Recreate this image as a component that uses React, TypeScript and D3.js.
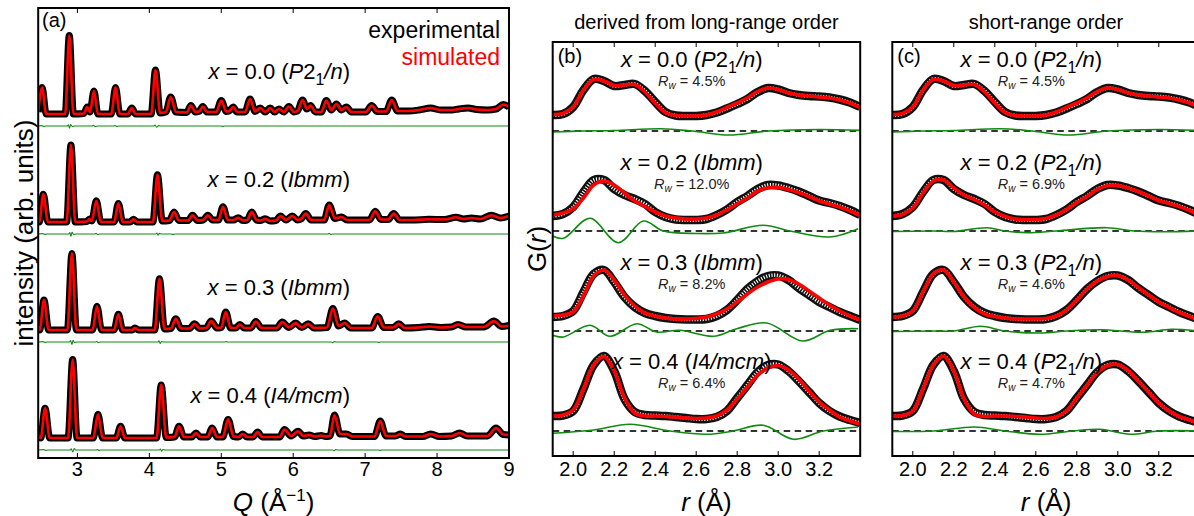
import React from 'react';
import * as d3 from 'd3';

const FONT = "'Liberation Sans', Arial, Helvetica, sans-serif";

// ---------------- shared labels ----------------
const compositions = ['0.0', '0.2', '0.3', '0.4'];
const sgAverage = ['P2_1/n', 'Ibmm', 'Ibmm', 'I4/mcm'];
const sgLocal = ['P2_1/n', 'P2_1/n', 'P2_1/n', 'P2_1/n'];
const rwLong = ['4.5', '12.0', '8.2', '6.4'];
const rwShort = ['4.5', '6.9', '4.6', '4.7'];

// ---------------- panel (a): diffraction ----------------
const qTicks = [3, 4, 5, 6, 7, 8, 9];
const offsetsA = [3.24, 2.16, 1.08, 0];

const profile00: [number, number][] = [
  [2.455, 0.02], [2.51, 0.264], [2.565, 0.0],
  [2.83, 0.0], [2.887, 0.785], [2.945, 0.0],
  [3.09, 0.005], [3.135, 0.07], [3.175, 0.02], [3.23, 0.23], [3.285, 0.0],
  [3.47, 0.0], [3.53, 0.264], [3.59, 0.0],
  [3.70, 0.0], [3.756, 0.06], [3.81, 0.0],
  [4.025, 0.0], [4.085, 0.44], [4.15, 0.01],
  [4.23, 0.02], [4.297, 0.17], [4.37, 0.02],
  [4.52, 0.015], [4.577, 0.085], [4.64, 0.02],
  [4.69, 0.025], [4.744, 0.075], [4.80, 0.02],
  [4.93, 0.02], [5.0, 0.135], [5.07, 0.025],
  [5.11, 0.03], [5.165, 0.07], [5.22, 0.02],
  [5.33, 0.02], [5.40, 0.15], [5.47, 0.025],
  [5.54, 0.06], [5.61, 0.02], [5.68, 0.06], [5.74, 0.02], [5.80, 0.05], [5.87, 0.02], [5.94, 0.075], [6.01, 0.02],
  [6.06, 0.03], [6.13, 0.14], [6.19, 0.05], [6.24, 0.085], [6.31, 0.02],
  [6.39, 0.02], [6.46, 0.135], [6.53, 0.04], [6.60, 0.10], [6.67, 0.04], [6.74, 0.07], [6.81, 0.02],
  [7.01, 0.02], [7.09, 0.085], [7.17, 0.025],
  [7.29, 0.025], [7.37, 0.14], [7.45, 0.03],
  [7.6, 0.03], [7.75, 0.04], [7.91, 0.06], [8.05, 0.04],
  [8.2, 0.04], [8.3, 0.05], [8.43, 0.06], [8.55, 0.045],
  [8.7, 0.04], [8.82, 0.05], [8.92, 0.095], [9.0, 0.07],
];

const profile02: [number, number][] = [
  [2.455, 0.02], [2.47, 0.0], [2.526, 0.277], [2.59, 0.0],
  [2.85, 0.0], [2.91, 0.771], [2.97, 0.0],
  [3.13, 0.005], [3.17, 0.03], [3.2, 0.01], [3.263, 0.213], [3.325, 0.0],
  [3.51, 0.0], [3.569, 0.186], [3.63, 0.0],
  [3.73, 0.0], [3.78, 0.027], [3.83, 0.0],
  [4.05, 0.0], [4.113, 0.473], [4.18, 0.01],
  [4.28, 0.015], [4.344, 0.10], [4.41, 0.015],
  [4.54, 0.015], [4.60, 0.068], [4.67, 0.015],
  [4.75, 0.02], [4.813, 0.068], [4.88, 0.02],
  [4.96, 0.02], [5.024, 0.153], [5.09, 0.02],
  [5.17, 0.02], [5.235, 0.043], [5.30, 0.015],
  [5.36, 0.02], [5.424, 0.10], [5.49, 0.02],
  [5.55, 0.015], [5.612, 0.033], [5.68, 0.01],
  [5.76, 0.015], [5.823, 0.06], [5.90, 0.02], [5.987, 0.06], [6.06, 0.02],
  [6.11, 0.03], [6.175, 0.084], [6.25, 0.02],
  [6.43, 0.02], [6.5, 0.17], [6.58, 0.035], [6.67, 0.05], [6.75, 0.02],
  [7.06, 0.02], [7.14, 0.108], [7.22, 0.025],
  [7.32, 0.025], [7.397, 0.084], [7.48, 0.02],
  [7.65, 0.02], [7.89, 0.027], [8.1, 0.025],
  [8.265, 0.047], [8.37, 0.03], [8.477, 0.04], [8.6, 0.03],
  [8.757, 0.068], [8.88, 0.04], [9.0, 0.06],
];

const profile03: [number, number][] = [
  [2.455, 0.02], [2.475, 0.0], [2.535, 0.30], [2.60, 0.0],
  [2.86, 0.0], [2.924, 0.766], [2.985, 0.0],
  [3.21, 0.0], [3.272, 0.238], [3.335, 0.0],
  [3.51, 0.0], [3.569, 0.157], [3.63, 0.0],
  [3.76, 0.0], [3.80, 0.02], [3.85, 0.0],
  [4.075, 0.0], [4.14, 0.512], [4.21, 0.01],
  [4.30, 0.015], [4.367, 0.113], [4.44, 0.015],
  [4.56, 0.015], [4.626, 0.062], [4.70, 0.015],
  [4.79, 0.02], [4.86, 0.089], [4.94, 0.02],
  [5.00, 0.025], [5.062, 0.18], [5.13, 0.02],
  [5.20, 0.02], [5.258, 0.055], [5.32, 0.02],
  [5.41, 0.02], [5.48, 0.085], [5.56, 0.02],
  [5.77, 0.02], [5.847, 0.079], [5.94, 0.025], [6.034, 0.069], [6.12, 0.025], [6.208, 0.062], [6.29, 0.02],
  [6.47, 0.025], [6.551, 0.214], [6.63, 0.04], [6.716, 0.07], [6.8, 0.02],
  [7.09, 0.02], [7.175, 0.136], [7.26, 0.025],
  [7.39, 0.025], [7.467, 0.062], [7.55, 0.02],
  [7.75, 0.025], [7.89, 0.035], [8.05, 0.025],
  [8.2, 0.03], [8.29, 0.055], [8.4, 0.03],
  [8.65, 0.03], [8.79, 0.089], [8.9, 0.035], [9.0, 0.045],
];

const profile04: [number, number][] = [
  [2.455, 0.02], [2.49, 0.0], [2.55, 0.298], [2.615, 0.0],
  [2.87, 0.0], [2.934, 0.785], [2.995, 0.0],
  [3.22, 0.0], [3.286, 0.237], [3.35, 0.0],
  [3.54, 0.0], [3.60, 0.118], [3.66, 0.0],
  [4.10, 0.0], [4.165, 0.531], [4.235, 0.005],
  [4.35, 0.01], [4.413, 0.118], [4.48, 0.01],
  [4.59, 0.01], [4.647, 0.05], [4.71, 0.01],
  [4.81, 0.01], [4.874, 0.10], [4.94, 0.01],
  [5.02, 0.01], [5.095, 0.186], [5.17, 0.015],
  [5.24, 0.01], [5.297, 0.04], [5.36, 0.01],
  [5.44, 0.01], [5.504, 0.06], [5.57, 0.01],
  [5.81, 0.01], [5.879, 0.085], [5.97, 0.02], [6.068, 0.068], [6.14, 0.02], [6.22, 0.03], [6.30, 0.015], [6.388, 0.025], [6.45, 0.015],
  [6.51, 0.02], [6.574, 0.23], [6.65, 0.04], [6.74, 0.04], [6.82, 0.015],
  [7.13, 0.015], [7.21, 0.169], [7.29, 0.02],
  [7.42, 0.02], [7.49, 0.04], [7.56, 0.015],
  [7.8, 0.015], [7.913, 0.04], [8.03, 0.015],
  [8.2, 0.02], [8.313, 0.05], [8.42, 0.02],
  [8.7, 0.02], [8.82, 0.10], [8.92, 0.035], [9.0, 0.03],
];

const diffA00: [number, number][] = [
  [2.455, 0], [2.50, 0.004], [2.53, -0.004], [2.56, 0], [2.86, 0], [2.875, 0.012], [2.89, -0.022], [2.905, 0.015], [2.93, -0.005], [2.96, 0],
  [3.2, 0], [3.22, 0.006], [3.25, -0.005], [3.28, 0], [3.5, 0], [3.52, 0.005], [3.55, -0.004], [3.58, 0],
  [4.06, 0], [4.08, 0.01], [4.1, -0.012], [4.13, 0.004], [4.16, 0], [5.0, 0], [5.02, -0.004], [5.05, 0], [9.0, 0],
];
const diffA02: [number, number][] = [
  [2.455, 0], [2.52, 0.004], [2.55, -0.004], [2.58, 0], [2.88, 0], [2.895, 0.014], [2.91, -0.024], [2.925, 0.016], [2.95, -0.005], [2.98, 0],
  [3.24, 0], [3.26, 0.006], [3.28, -0.005], [3.31, 0], [4.09, 0], [4.105, 0.01], [4.12, -0.012], [4.14, 0.006], [4.17, 0],
  [4.3, 0], [4.33, -0.004], [4.36, 0], [6.48, 0], [6.5, 0.006], [6.52, -0.004], [6.55, 0], [9.0, 0],
];
const diffA03: [number, number][] = [
  [2.455, 0], [2.52, 0.004], [2.55, -0.004], [2.58, 0], [2.89, 0], [2.905, 0.014], [2.925, -0.024], [2.94, 0.016], [2.96, -0.005], [2.99, 0],
  [3.25, 0], [3.27, 0.005], [3.29, -0.005], [3.32, 0], [4.12, 0], [4.135, 0.012], [4.15, -0.014], [4.17, 0.005], [4.2, 0],
  [5.05, 0], [5.07, 0.004], [5.09, 0], [6.53, 0], [6.55, -0.008], [6.57, 0.004], [6.6, 0], [7.17, 0], [7.19, -0.004], [7.21, 0], [9.0, 0],
];
const diffA04: [number, number][] = [
  [2.455, 0], [2.53, 0.004], [2.56, -0.004], [2.59, 0], [2.9, 0], [2.915, 0.012], [2.935, -0.02], [2.955, 0.014], [2.98, 0],
  [3.26, 0], [3.28, 0.004], [3.3, -0.004], [3.32, 0], [4.14, 0], [4.155, 0.01], [4.17, -0.012], [4.19, 0.004], [4.22, 0],
  [6.55, 0], [6.57, -0.008], [6.59, 0.004], [6.62, 0], [7.19, 0], [7.21, -0.004], [7.23, 0], [9.0, 0],
];
const profilesA = [profile00, profile02, profile03, profile04];
const diffsA = [diffA00, diffA02, diffA03, diffA04];

// ---------------- panels (b) and (c): PDF ----------------
const rGrid = [1.90, 1.95, 2.00, 2.05, 2.10, 2.15, 2.20, 2.25, 2.30, 2.35, 2.40, 2.45, 2.50, 2.55, 2.60, 2.65,
  2.70, 2.75, 2.80, 2.85, 2.90, 2.95, 3.00, 3.05, 3.10, 3.15, 3.20, 3.25, 3.30, 3.35, 3.40];
const rTicks = [2.0, 2.2, 2.4, 2.6, 2.8, 3.0, 3.2];
const offsetsG = [3, 2, 1, 0];

const expG00 = [0.16, 0.17, 0.24, 0.41, 0.52, 0.50, 0.45, 0.46, 0.47, 0.40, 0.29, 0.19, 0.155, 0.15, 0.15, 0.16, 0.185, 0.225, 0.27, 0.32, 0.39, 0.43, 0.415, 0.38, 0.36, 0.35, 0.345, 0.335, 0.315, 0.285, 0.24];
const expG02 = [0.15, 0.17, 0.24, 0.39, 0.51, 0.51, 0.42, 0.36, 0.32, 0.27, 0.19, 0.14, 0.115, 0.11, 0.11, 0.12, 0.16, 0.215, 0.29, 0.35, 0.42, 0.46, 0.455, 0.43, 0.395, 0.35, 0.305, 0.28, 0.25, 0.21, 0.16];
const expG03 = [0.14, 0.15, 0.20, 0.39, 0.57, 0.61, 0.49, 0.34, 0.24, 0.18, 0.15, 0.13, 0.12, 0.115, 0.115, 0.12, 0.15, 0.21, 0.31, 0.42, 0.50, 0.55, 0.555, 0.51, 0.43, 0.36, 0.29, 0.24, 0.19, 0.15, 0.11];
const expG04 = [0.15, 0.155, 0.20, 0.42, 0.66, 0.75, 0.60, 0.32, 0.19, 0.16, 0.155, 0.15, 0.14, 0.13, 0.12, 0.12, 0.14, 0.20, 0.33, 0.46, 0.59, 0.66, 0.665, 0.60, 0.50, 0.39, 0.28, 0.20, 0.145, 0.11, 0.08];

// simulated, average (long-range) structure models
const simLong00 = [0.165, 0.175, 0.24, 0.41, 0.515, 0.50, 0.455, 0.46, 0.465, 0.39, 0.28, 0.185, 0.155, 0.15, 0.15, 0.16, 0.19, 0.235, 0.28, 0.33, 0.395, 0.43, 0.415, 0.38, 0.36, 0.35, 0.34, 0.33, 0.31, 0.28, 0.235];
const simLong02 = [0.16, 0.18, 0.22, 0.33, 0.46, 0.50, 0.46, 0.38, 0.30, 0.245, 0.19, 0.15, 0.13, 0.12, 0.12, 0.13, 0.16, 0.21, 0.27, 0.33, 0.40, 0.43, 0.435, 0.415, 0.385, 0.345, 0.30, 0.27, 0.24, 0.20, 0.155];
const simLong03 = [0.15, 0.16, 0.19, 0.35, 0.55, 0.61, 0.51, 0.36, 0.25, 0.18, 0.15, 0.13, 0.12, 0.12, 0.125, 0.14, 0.17, 0.22, 0.29, 0.37, 0.44, 0.49, 0.52, 0.515, 0.47, 0.40, 0.33, 0.26, 0.20, 0.15, 0.11];
const simLong04 = [0.15, 0.16, 0.21, 0.42, 0.66, 0.745, 0.60, 0.33, 0.18, 0.15, 0.15, 0.145, 0.14, 0.13, 0.125, 0.13, 0.15, 0.21, 0.32, 0.44, 0.56, 0.63, 0.655, 0.61, 0.52, 0.40, 0.29, 0.21, 0.14, 0.10, 0.07];
// simulated, local (short-range) P2_1/n models
const simShort00 = simLong00;
const simShort02 = [0.15, 0.165, 0.23, 0.38, 0.50, 0.51, 0.43, 0.36, 0.315, 0.26, 0.19, 0.145, 0.12, 0.115, 0.115, 0.125, 0.16, 0.215, 0.285, 0.345, 0.415, 0.455, 0.455, 0.43, 0.395, 0.35, 0.305, 0.275, 0.245, 0.205, 0.155];
const simShort03 = [0.14, 0.15, 0.20, 0.39, 0.57, 0.61, 0.49, 0.34, 0.235, 0.17, 0.145, 0.13, 0.12, 0.12, 0.12, 0.125, 0.15, 0.21, 0.31, 0.42, 0.50, 0.545, 0.555, 0.51, 0.435, 0.36, 0.29, 0.235, 0.185, 0.145, 0.11];
const simShort04 = [0.15, 0.155, 0.20, 0.42, 0.66, 0.75, 0.60, 0.32, 0.17, 0.145, 0.15, 0.15, 0.145, 0.14, 0.13, 0.125, 0.14, 0.20, 0.33, 0.46, 0.585, 0.655, 0.665, 0.605, 0.50, 0.39, 0.28, 0.20, 0.145, 0.11, 0.08];

// difference curves (r, G)
const diffLong00: [number, number][] = [[1.9, -0.01], [2.05, 0.0], [2.2, 0.005], [2.43, 0.023], [2.58, 0.0], [2.76, -0.04], [2.95, 0.0], [3.2, 0.015], [3.4, 0.006]];
const diffLong02: [number, number][] = [[1.9, -0.05], [1.952, -0.073], [2.082, 0.127], [2.22, -0.117], [2.342, 0.10], [2.44, 0.0], [2.60, -0.025], [2.73, -0.02], [2.927, 0.057], [3.057, 0.0], [3.253, -0.06], [3.39, 0.023]];
const diffLong03: [number, number][] = [[1.9, -0.043], [1.952, -0.06], [2.082, 0.057], [2.18, -0.053], [2.31, 0.073], [2.407, -0.01], [2.52, 0.007], [2.684, -0.053], [2.798, 0.023], [2.944, 0.08], [3.12, -0.10], [3.253, 0.007], [3.39, 0.023]];
const diffLong04: [number, number][] = [[1.9, -0.023], [2.1, 0.01], [2.277, 0.067], [2.472, 0.0], [2.65, -0.033], [2.78, 0.0], [2.927, 0.057], [3.074, -0.083], [3.22, 0.0], [3.39, 0.04]];
const diffShort00 = diffLong00;
const diffShort02: [number, number][] = [[1.9, -0.005], [2.1, 0.0], [2.2, -0.005], [2.362, 0.033], [2.45, 0.0], [2.557, -0.017], [2.7, 0.0], [2.946, 0.033], [3.08, 0.0], [3.233, -0.007], [3.4, 0.0]];
const diffShort03: [number, number][] = [[1.9, -0.005], [2.1, 0.0], [2.2, 0.0], [2.33, 0.047], [2.45, 0.0], [2.62, -0.02], [2.75, 0.0], [2.914, 0.013], [3.125, -0.013], [3.26, 0.017], [3.4, 0.0]];
const diffShort04: [number, number][] = [[1.9, -0.005], [2.1, 0.0], [2.3, 0.04], [2.45, 0.0], [2.62, -0.033], [2.78, 0.0], [2.914, 0.017], [3.06, -0.033], [3.2, 0.0], [3.4, 0.0]];

const expG = [expG00, expG02, expG03, expG04];
const simLong = [simLong00, simLong02, simLong03, simLong04];
const simShort = [simShort00, simShort02, simShort03, simShort04];
const diffLong = [diffLong00, diffLong02, diffLong03, diffLong04];
const diffShort = [diffShort00, diffShort02, diffShort03, diffShort04];

// ---------------- layout ----------------
const PA = { x0: 38.2, x1: 509, y0: 8, y1: 458 };
const PB = { x0: 552.7, x1: 860.2, y0: 42, y1: 456 };
const PC = { x0: 892.3, x1: 1199.8, y0: 42, y1: 456 };
const GREEN = '#118a11';
const RED = '#ff0000';

function sgTspans(sg: string, fs: number, keyBase: string) {
  const segs: { t: string; it: boolean; sub: boolean }[] = [];
  for (let i = 0; i < sg.length; i++) {
    const c = sg[i];
    if (c === '_') { segs.push({ t: sg[i + 1], it: false, sub: true }); i++; continue; }
    const it = /[A-Za-z\/]/.test(c);
    const last = segs[segs.length - 1];
    if (last && !last.sub && last.it === it) last.t += c;
    else segs.push({ t: c, it, sub: false });
  }
  let prevSub = false;
  const sh = fs * 0.25;
  return segs.map((s, i) => {
    const dy = s.sub && !prevSub ? sh : !s.sub && prevSub ? -sh : 0;
    prevSub = s.sub;
    return (
      <tspan key={keyBase + i} dy={dy || undefined} fontStyle={s.it ? 'italic' : 'normal'} fontSize={s.sub ? fs * 0.72 : undefined}>
        {s.t}
      </tspan>
    );
  });
}

function CompLabel({ x, y, comp, sg, fs, anchor }: { x: number; y: number; comp: string; sg: string; fs: number; anchor: string }) {
  return (
    <text x={x} y={y} fontSize={fs} textAnchor={anchor} fill="#000">
      <tspan fontStyle="italic">x</tspan>
      <tspan>{` = ${comp} (`}</tspan>
      {sgTspans(sg, fs, 'sg')}
      <tspan>)</tspan>
    </text>
  );
}

function RwLabel({ x, y, val }: { x: number; y: number; val: string }) {
  return (
    <text x={x} y={y} fontSize={14.5} textAnchor="middle" fill="#222">
      <tspan fontStyle="italic">R</tspan>
      <tspan fontStyle="italic" fontSize={10} dy={3}>w</tspan>
      <tspan dy={-3}>{` = ${val}%`}</tspan>
    </text>
  );
}

function PdfPanel({ P, sims, diffs, sgs, rws, tag }: any) {
  const x = d3.scaleLinear().domain([1.9, 3.4]).range([P.x0, P.x1]);
  const y = d3.scaleLinear().domain([-0.25, 3.89]).range([P.y1, P.y0]);
  const smooth = d3.curveCatmullRom.alpha(0.5);
  const clipId = 'clip' + tag;
  const labelX = P.x0 + 139;
  const labelDy = [-64, -61, -61, -62];
  const rwDy = [-45, -42, -42, -43];
  return (
    <g>
      <clipPath id={clipId}><rect x={P.x0} y={P.y0} width={P.x1 - P.x0} height={P.y1 - P.y0} /></clipPath>
      <g clipPath={`url(#${clipId})`}>
        {compositions.map((c, k) => {
          const off = offsetsG[k];
          const ln = d3.line<[number, number]>().x(d => x(d[0])).y(d => y(d[1] + off)).curve(smooth);
          const expPts = rGrid.map((r, i) => [r, expG[k][i]] as [number, number]);
          const simPts = rGrid.map((r, i) => [r, sims[k][i]] as [number, number]);
          return (
            <g key={c}>
              <line x1={P.x0} x2={P.x1} y1={y(off)} y2={y(off)} stroke="#333" strokeWidth={2.2} strokeDasharray="6.5 4.5" />
              <path d={ln(diffs[k]) || ''} fill="none" stroke={GREEN} strokeWidth={1.6} />
              <path d={ln(expPts) || ''} fill="none" stroke="#111" strokeWidth={8.5} strokeLinejoin="round" />
              <path d={ln(expPts) || ''} fill="none" stroke="#fff" strokeWidth={3.6} strokeDasharray="1.1 1.6" />
              <path d={ln(simPts) || ''} fill="none" stroke={RED} strokeWidth={3.6} />
            </g>
          );
        })}
      </g>
      {compositions.map((c, k) => (
        <g key={'lab' + c}>
          <CompLabel x={labelX} y={y(offsetsG[k]) + labelDy[k]} comp={c} sg={sgs[k]} fs={22} anchor="middle" />
          <RwLabel x={labelX} y={y(offsetsG[k]) + rwDy[k]} val={rws[k]} />
        </g>
      ))}
      {rTicks.map(t => (
        <g key={'t' + t}>
          <line x1={x(t)} x2={x(t)} y1={P.y1} y2={P.y1 - 5} stroke="#000" strokeWidth={1} />
          <line x1={x(t)} x2={x(t)} y1={P.y0} y2={P.y0 + 5} stroke="#000" strokeWidth={1} />
          <text x={x(t)} y={476} fontSize={20} textAnchor="middle">{d3.format('.1f')(t)}</text>
        </g>
      ))}
      <rect x={P.x0} y={P.y0} width={P.x1 - P.x0} height={P.y1 - P.y0} fill="none" stroke="#000" strokeWidth={2} />
      <text x={P.x0 + 5} y={P.y0 + 21} fontSize={20}>{`(${tag})`}</text>
      <text x={(P.x0 + P.x1) / 2} y={511} fontSize={26} textAnchor="middle">
        <tspan fontStyle="italic">r</tspan>
        <tspan>{' (Å)'}</tspan>
      </text>
    </g>
  );
}

export default function App() {
  const xQ = d3.scaleLinear().domain([2.455, 9]).range([PA.x0, PA.x1]);
  const yI = d3.scaleLinear().domain([-0.2, 4.3]).range([PA.y1, PA.y0]);

  return (
    <svg width={1194} height={516} style={{ position: 'absolute', left: 0, top: 0, background: '#fff' }} fontFamily={FONT}>
      <rect x={0} y={0} width={1194} height={516} fill="#fff" />
      {/* Panel (a) */}
      <clipPath id="clipA"><rect x={PA.x0} y={PA.y0} width={PA.x1 - PA.x0} height={PA.y1 - PA.y0} /></clipPath>
      <g clipPath="url(#clipA)">
        {compositions.map((c, k) => {
          const off = offsetsA[k];
          const ln = d3.line<[number, number]>().x(d => xQ(d[0])).y(d => yI(d[1] + off)).curve(d3.curveMonotoneX);
          const dl = d3.line<[number, number]>().x(d => xQ(d[0])).y(d => yI(d[1] + off - 0.12)).curve(d3.curveMonotoneX);
          return (
            <g key={c}>
              <path d={dl(diffsA[k]) || ''} fill="none" stroke={GREEN} strokeWidth={1.1} />
              <path d={ln(profilesA[k]) || ''} fill="none" stroke="#000" strokeWidth={7} strokeLinejoin="round" />
              <path d={ln(profilesA[k]) || ''} fill="none" stroke={RED} strokeWidth={2.6} strokeLinejoin="round" />
            </g>
          );
        })}
      </g>
      {compositions.map((c, k) => (
        <CompLabel key={'la' + c} x={350} y={yI(offsetsA[k]) - 35} comp={c} sg={sgAverage[k]} fs={22} anchor="end" />
      ))}
      {qTicks.map(t => (
        <g key={'q' + t}>
          <line x1={xQ(t)} x2={xQ(t)} y1={PA.y1} y2={PA.y1 - 5} stroke="#000" strokeWidth={1} />
          <line x1={xQ(t)} x2={xQ(t)} y1={PA.y0} y2={PA.y0 + 5} stroke="#000" strokeWidth={1} />
          <text x={xQ(t)} y={476} fontSize={20} textAnchor="middle">{t}</text>
        </g>
      ))}
      <rect x={PA.x0} y={PA.y0} width={PA.x1 - PA.x0} height={PA.y1 - PA.y0} fill="none" stroke="#000" strokeWidth={2} />
      <text x={42} y={27} fontSize={20}>(a)</text>
      <text x={500} y={38} fontSize={23} textAnchor="end" fill="#000">experimental</text>
      <text x={500} y={65} fontSize={23} textAnchor="end" fill={RED}>simulated</text>
      <text x={(PA.x0 + PA.x1) / 2} y={511} fontSize={26} textAnchor="middle">
        <tspan fontStyle="italic">Q</tspan>
        <tspan>{' (Å'}</tspan>
        <tspan fontSize={17} dy={-10}>−1</tspan>
        <tspan dy={10}>)</tspan>
      </text>
      <text transform={`translate(33, ${(PA.y0 + PA.y1) / 2}) rotate(-90)`} fontSize={26} textAnchor="middle">intensity (arb. units)</text>

      {/* Panels (b), (c) */}
      <PdfPanel P={PB} sims={simLong} diffs={diffLong} sgs={sgAverage} rws={rwLong} tag="b" />
      <PdfPanel P={PC} sims={simShort} diffs={diffShort} sgs={sgLocal} rws={rwShort} tag="c" />
      <text transform={`translate(546, ${(PB.y0 + PB.y1) / 2}) rotate(-90)`} fontSize={26} textAnchor="middle">
        G(<tspan fontStyle="italic">r</tspan>)
      </text>
      <text x={(PB.x0 + PB.x1) / 2} y={29} fontSize={20} textAnchor="middle">derived from long-range order</text>
      <text x={1046} y={29} fontSize={20} textAnchor="middle">short-range order</text>
    </svg>
  );
}
